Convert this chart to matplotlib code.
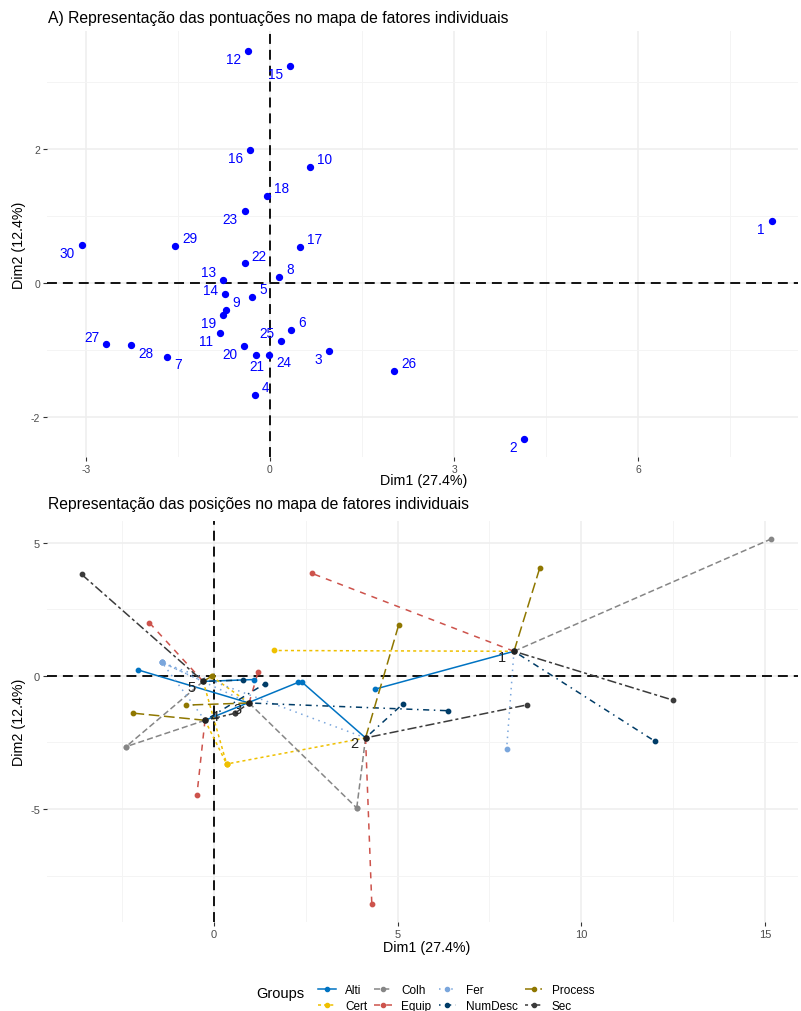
import matplotlib.pyplot as plt
from matplotlib.lines import Line2D
from matplotlib.ticker import MultipleLocator

plt.rcParams['font.family'] = ['Liberation Sans', 'DejaVu Sans']
plt.rcParams['axes.unicode_minus'] = False

# ---- Painel A: coordenadas dos individuos (Dim1, Dim2)
ind_labels = [str(i) for i in range(1, 31)]
dim1 = [8.17, 4.13, 0.96, -0.24, -0.29, 0.35, -1.67, 0.15, -0.72, 0.65,
        -0.81, -0.36, -0.76, -0.73, 0.33, -0.32, 0.49, -0.04, -0.76, -0.42,
        -0.22, -0.41, -0.41, -0.01, 0.18, 2.02, -2.67, -2.26, -1.54, -3.06]
dim2 = [0.92, -2.33, -1.02, -1.67, -0.21, -0.71, -1.10, 0.09, -0.40, 1.73,
        -0.75, 3.46, 0.05, -0.16, 3.24, 1.98, 0.53, 1.30, -0.48, -0.94,
        -1.08, 0.29, 1.07, -1.07, -0.87, -1.32, -0.92, -0.93, 0.55, 0.57]

# ---- Painel B: pontos parciais por grupo (individuos 1..5)
groups = ['Alti', 'Cert', 'Colh', 'Equip', 'Fer', 'NumDesc', 'Process', 'Sec']
centro_labels = ['1', '2', '3', '4', '5']
part_x = {
    'Alti':    [4.39, 2.41, -2.06, 2.29, 1.10],
    'Cert':    [1.64, 0.35, -0.06, 0.35, 0.35],
    'Colh':    [15.16, 3.89, 3.89, -2.39, -2.39],
    'Equip':   [2.66, 4.30, 1.21, -0.46, -1.76],
    'Fer':     [7.97, -1.41, -1.41, -1.41, -1.41],
    'NumDesc': [12.01, 5.15, 6.37, 1.40, 0.80],
    'Process': [8.87, 5.03, -0.77, -2.21, -0.06],
    'Sec':     [12.49, 8.53, 0.57, 0.57, -3.60],
}
part_y = {
    'Alti':    [-0.50, -0.25, 0.22, -0.25, -0.14],
    'Cert':    [0.95, -3.31, -0.02, -3.31, -3.31],
    'Colh':    [5.13, -4.96, -4.96, -2.66, -2.66],
    'Equip':   [3.85, -8.56, 0.16, -4.47, 2.00],
    'Fer':     [-2.74, 0.50, 0.50, 0.50, 0.50],
    'NumDesc': [-2.46, -1.05, -1.31, -0.29, -0.16],
    'Process': [4.04, 1.90, -1.10, -1.40, -0.02],
    'Sec':     [-0.91, -1.09, -1.41, -1.41, 3.81],
}

# estilos (paleta jco + tipos de linha do ggplot)
cores = {'Alti': '#0073C2', 'Cert': '#EFC000', 'Colh': '#868686', 'Equip': '#CD534C',
         'Fer': '#7AA6DC', 'NumDesc': '#003C67', 'Process': '#8F7700', 'Sec': '#3B3B3B'}
tracos = {'Alti': '-', 'Cert': (0, (2, 2)), 'Colh': (0, (4, 2)), 'Equip': (0, (4, 4)),
          'Fer': (0, (1, 3)), 'NumDesc': (0, (1, 3, 4, 3)), 'Process': (0, (7, 3)),
          'Sec': (0, (2, 2, 6, 2))}

# posicao dos rotulos (estilo ggrepel)
dir_rotulos = ['ll', 'll', 'll', 'ur', 'ur', 'ur', 'lr', 'ur', 'ur', 'ur',
               'll', 'll', 'ul', 'l', 'll', 'll', 'ur', 'ur', 'll', 'll',
               'd', 'ur', 'll', 'lr', 'ul', 'ur', 'ul', 'lr', 'ur', 'll']
desloc = {'ur': (5.0, 5.7, 'left'), 'ul': (-5.0, 5.7, 'right'),
          'll': (-5.0, -5.7, 'right'), 'lr': (5.0, -5.7, 'left'),
          'l': (-5.0, 2.6, 'right'), 'd': (0, -7.5, 'center')}

W, H = 801, 1012
fig = plt.figure(figsize=(W / 100, H / 100), dpi=100)


def estilo_eixo(ax, tick_size):
    for s in ax.spines.values():
        s.set_visible(False)
    ax.grid(True, which='major', color='#EEEEEE', lw=1.1, zorder=0)
    ax.grid(True, which='minor', color='#F4F4F4', lw=0.7, zorder=0)
    ax.tick_params(which='major', length=3, width=0.8, color='#333333',
                   labelsize=tick_size, labelcolor='#4D4D4D', pad=2)
    ax.tick_params(which='minor', length=0)
    ax.set_axisbelow(True)
    ax.axhline(0, color='black', lw=1.3, ls=(0, (5.5, 3.3)), zorder=1)
    ax.axvline(0, color='black', lw=1.3, ls=(0, (5.5, 3.3)), zorder=1)


# ---------------- painel superior
ax1 = fig.add_axes([47 / W, 1 - 458 / H, 751 / W, 426 / H])
estilo_eixo(ax1, 7.5)
ax1.set_xlim(-3.63, 8.6)
ax1.set_ylim(-2.60, 3.76)
ax1.xaxis.set_major_locator(MultipleLocator(3))
ax1.xaxis.set_minor_locator(MultipleLocator(1.5))
ax1.yaxis.set_major_locator(MultipleLocator(2))
ax1.yaxis.set_minor_locator(MultipleLocator(1))
ax1.scatter(dim1, dim2, s=18, color='blue', zorder=3)
for lab, x, y, d in zip(ind_labels, dim1, dim2, dir_rotulos):
    dx, dy, ha = desloc[d]
    ax1.annotate(lab, (x, y), xytext=(dx, dy), textcoords='offset points',
                 ha=ha, va='center', color='blue', fontsize=9.8, zorder=4)

fig.text(48 / W, 1 - 18 / H, 'A) Representação das pontuações no mapa de fatores individuais',
         ha='left', va='center', fontsize=11.3)
fig.text(424 / W, 1 - 481 / H, 'Dim1 (27.4%)', ha='center', va='center', fontsize=10.3)
fig.text(19 / W, 1 - 245 / H, 'Dim2 (12.4%)', ha='center', va='center',
         rotation=90, fontsize=10.3)

# ---------------- painel inferior
ax2 = fig.add_axes([47 / W, 1 - 923 / H, 751 / W, 401 / H])
estilo_eixo(ax2, 8)
ax2.set_xlim(-4.54, 15.9)
ax2.set_ylim(-9.24, 5.81)
ax2.xaxis.set_major_locator(MultipleLocator(5))
ax2.xaxis.set_minor_locator(MultipleLocator(2.5))
ax2.yaxis.set_major_locator(MultipleLocator(5))
ax2.yaxis.set_minor_locator(MultipleLocator(2.5))

cx, cy = dim1[:5], dim2[:5]
for g in groups:
    for i in range(5):
        ax2.plot([cx[i], part_x[g][i]], [cy[i], part_y[g][i]], color=cores[g],
                 ls=tracos[g], lw=1.1, zorder=2)
    ax2.scatter(part_x[g], part_y[g], s=10, color=cores[g], zorder=3)
ax2.scatter(cx, cy, s=14, color='#222222', zorder=4)
for i, lab in enumerate(centro_labels):
    if i == 3:
        ax2.annotate(lab, (cx[i], cy[i]), xytext=(4.3, 3), textcoords='offset points',
                     ha='left', va='center', fontsize=10.5, color='#222222', zorder=5)
    else:
        ax2.annotate(lab, (cx[i], cy[i]), xytext=(-5.5, -4), textcoords='offset points',
                     ha='right', va='center', fontsize=10.5, color='#222222', zorder=5)

fig.text(48 / W, 1 - 505 / H, 'Representação das posições no mapa de fatores individuais',
         ha='left', va='center', fontsize=11.3)
fig.text(427 / W, 1 - 948 / H, 'Dim1 (27.4%)', ha='center', va='center', fontsize=10.3)
fig.text(19 / W, 1 - 722 / H, 'Dim2 (12.4%)', ha='center', va='center',
         rotation=90, fontsize=10.3)

# legenda
handles = [Line2D([], [], color=cores[g], ls=tracos[g], lw=1.1, marker='o', markersize=3)
           for g in groups]
fig.legend(handles, groups, loc='upper left', bbox_to_anchor=(312 / W, 1 - 979 / H),
           ncol=4, frameon=False, fontsize=8.5, borderpad=0, handlelength=1.5,
           handletextpad=0.8, columnspacing=0.6, labelspacing=0.35)
fig.text(256 / W, 1 - 994 / H, 'Groups', ha='left', va='center', fontsize=10.5)

fig.savefig('out.png', dpi=100)
